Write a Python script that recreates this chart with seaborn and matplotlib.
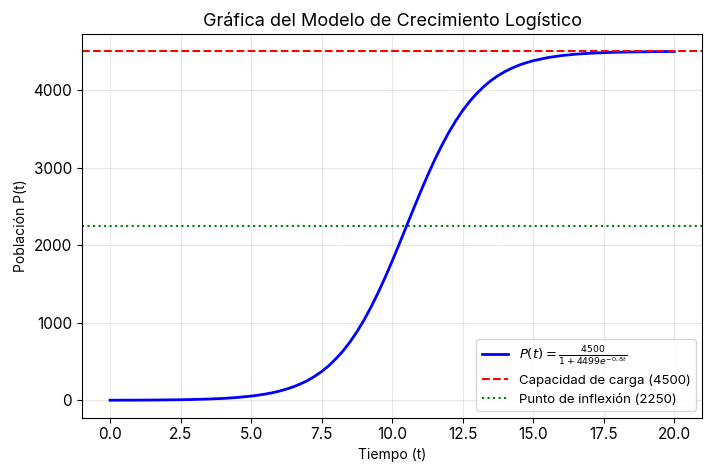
import seaborn as sns
import pandas as pd
import numpy as np
import matplotlib.pyplot as plt

plt.rcParams['font.family'] = ['Inter', 'DejaVu Sans']

# values (tiempo, población)
tiempo = [0, 0.5, 1, 1.5, 2, 2.5, 3, 3.5, 4, 4.5, 5, 5.25, 5.5, 5.75,
          6, 6.25, 6.5, 6.75, 7, 7.25, 7.5, 7.75, 8, 8.25, 8.5, 8.75,
          9, 9.25, 9.5, 9.75, 10, 10.25, 10.5, 10.75, 11, 11.25, 11.5,
          11.75, 12, 12.25, 12.5, 12.75, 13, 13.25, 13.5, 13.75, 14,
          14.25, 14.5, 14.75, 15, 15.5, 16, 16.5, 17, 17.5, 18, 18.5,
          19, 19.5, 20]
poblacion = [1, 1.5, 2.2, 3.3, 5, 7.4, 11, 16.4, 24, 36, 54, 66, 80, 97,
             118, 144, 174, 211, 254, 308, 370, 444, 533, 632, 749, 882,
             1033, 1200, 1384, 1583, 1793, 2013, 2237, 2461, 2681, 2893,
             3094, 3279, 3449, 3601, 3737, 3855, 3958, 4046, 4122, 4186,
             4239, 4284, 4322, 4353, 4379, 4418, 4445, 4463, 4475, 4483,
             4489, 4492, 4495, 4497, 4498]
capacidad = 4500
inflexion = 2250

df = pd.DataFrame({"t": tiempo, "P": poblacion})

fig, ax = plt.subplots(figsize=(7.11, 4.73), dpi=100)
sns.lineplot(data=df, x="t", y="P", ax=ax, color="blue", linewidth=2,
             label=r'$P(t) = \frac{4500}{1 + 4499e^{-0,8t}}$')
ax.axhline(capacidad, color="red", linestyle="--", linewidth=1.5,
           label=f"Capacidad de carga ({capacidad})")
ax.axhline(inflexion, color="green", linestyle=":", linewidth=1.5,
           label=f"Punto de inflexión ({inflexion})")

ax.set_title("Gráfica del Modelo de Crecimiento Logístico", fontsize=13)
ax.set_xlabel("Tiempo (t)", fontsize=10)
ax.set_ylabel("Población P(t)", fontsize=10)
ax.tick_params(labelsize=11)
ax.grid(True, alpha=0.3)
ax.legend(loc="lower right", fontsize=9.5)

plt.subplots_adjust(left=0.115, right=0.988, top=0.928, bottom=0.117)
plt.savefig("out.png", dpi=100)
